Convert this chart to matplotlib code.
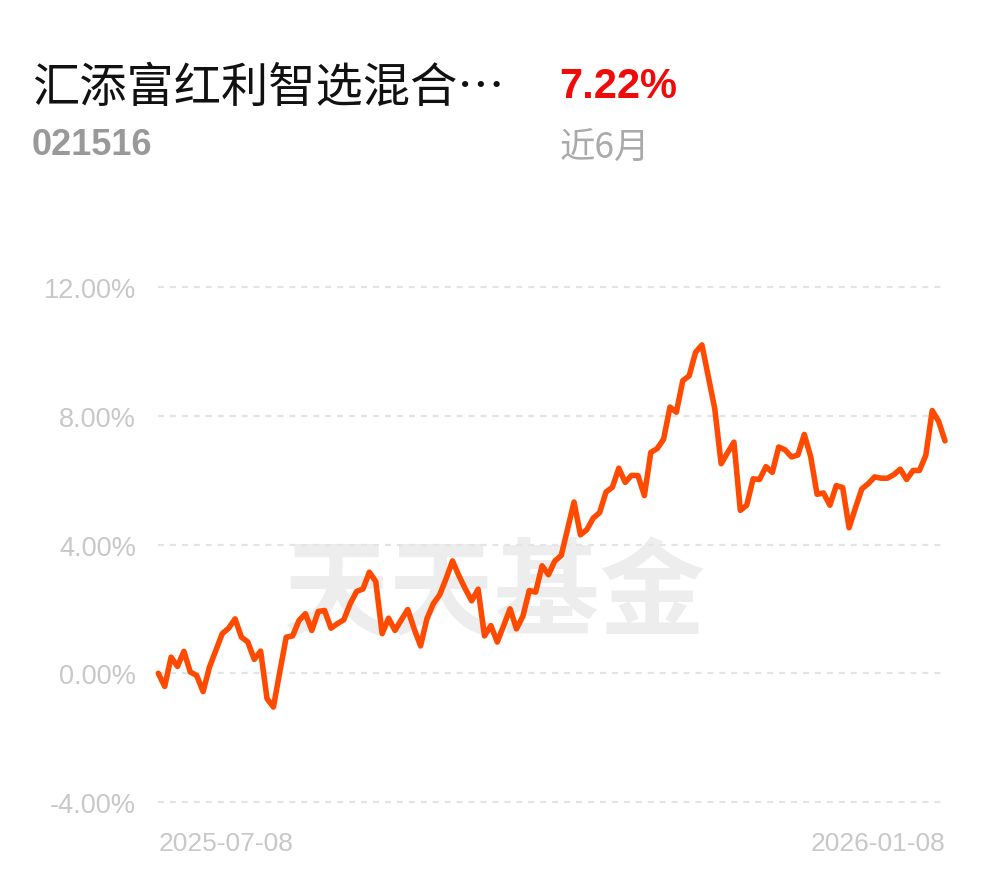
import matplotlib
matplotlib.use("Agg")
import matplotlib.pyplot as plt

title = "汇添富红利智选混合…"
fund_code = "021516"
period_return = "7.22%"
period_label = "近6月"
watermark = "天天基金"
x_labels = ["2025-07-08", "2026-01-08"]
y_ticks = [-4, 0, 4, 8, 12]
y_tick_labels = ["-4.00%", "0.00%", "4.00%", "8.00%", "12.00%"]

returns = [
    0.00, -0.41, 0.50, 0.21, 0.68, 0.04, -0.07, -0.57, 0.19, 0.71,
    1.23, 1.40, 1.69, 1.12, 0.97, 0.43, 0.69, -0.79, -1.05, 0.05,
    1.12, 1.16, 1.64, 1.85, 1.33, 1.92, 1.95, 1.40, 1.54, 1.66,
    2.16, 2.54, 2.62, 3.14, 2.85, 1.23, 1.71, 1.33, 1.66, 1.98,
    1.38, 0.85, 1.69, 2.16, 2.44, 2.94, 3.49, 3.03, 2.62, 2.25,
    2.61, 1.16, 1.48, 0.97, 1.48, 2.00, 1.38, 1.77, 2.57, 2.52,
    3.34, 3.06, 3.49, 3.66, 4.49, 5.32, 4.30, 4.46, 4.82, 4.99,
    5.63, 5.78, 6.37, 5.93, 6.15, 6.14, 5.52, 6.86, 6.98, 7.27,
    8.27, 8.11, 9.09, 9.24, 9.97, 10.20, 9.21, 8.22, 6.51, 6.85,
    7.18, 5.06, 5.22, 6.04, 6.02, 6.42, 6.24, 7.03, 6.94, 6.72,
    6.78, 7.42, 6.73, 5.56, 5.60, 5.22, 5.83, 5.77, 4.52, 5.14,
    5.73, 5.89, 6.10, 6.06, 6.06, 6.17, 6.34, 6.02, 6.30, 6.30,
    6.77, 8.16, 7.83, 7.22,
]

num_font = "Liberation Sans"
cjk = "Noto Sans CJK SC"

plt.rcParams["lines.scale_dashes"] = False

W, H = 990, 878
fig = plt.figure(figsize=(W / 100, H / 100), dpi=100)
fig.patch.set_facecolor("white")

left, right = 158.3, 945.0
top, bottom = 288.0, 803.0
ax = fig.add_axes([left / W, 1 - bottom / H, (right - left) / W, (bottom - top) / H])
ax.set_facecolor("none")

n = len(returns)
xs = list(range(n))
ax.plot(xs, returns, color="#ff4a00", linewidth=4.0, solid_joinstyle="round",
        solid_capstyle="round", zorder=3, clip_on=False)

ax.set_xlim(0, n - 1)
ax.set_ylim(y_ticks[0], y_ticks[-1])
for s in ax.spines.values():
    s.set_visible(False)

ax.set_yticks(y_ticks)
ax.set_yticklabels(y_tick_labels, fontfamily=num_font, fontsize=19.5, color="#c8c8c8")
for y in y_ticks:
    ax.axhline(y, color="#e4e4e4", linewidth=1.6, linestyle=(0, (4.3, 4.3)),
               zorder=1, clip_on=False)

ax.set_xticks([0, n - 1])
ax.set_xticklabels(x_labels, fontfamily=num_font, fontsize=19, color="#c8c8c8")
xl = ax.get_xticklabels()
xl[0].set_ha("left")
xl[1].set_ha("right")
ax.tick_params(axis="both", length=0)
ax.tick_params(axis="y", pad=16)
ax.tick_params(axis="x", pad=21)

# watermark, behind the line
ax.text(495 / W, 1 - 596 / H, watermark, transform=fig.transFigure,
        fontfamily=cjk, fontweight="bold", fontsize=76, color="#ededed",
        ha="center", va="center", zorder=0)

# header texts
fig.text(32 / W, 1 - 89 / H, title, fontfamily=[cjk, "DejaVu Sans"], fontsize=34,
         color="#111111", ha="left", va="center")
fig.text(559 / W, 1 - 87 / H, period_return, fontfamily=num_font, fontweight="bold",
         fontsize=30, color="#f00a0a", ha="left", va="center")
fig.text(32 / W, 1 - 146 / H, fund_code, fontfamily=num_font, fontweight="bold",
         fontsize=26, color="#999999", ha="left", va="center")
fig.text(560 / W, 1 - 149 / H, period_label, fontfamily=cjk, fontsize=25.5,
         color="#aaaaaa", ha="left", va="center")

fig.savefig("out.png", dpi=100, facecolor="white")
